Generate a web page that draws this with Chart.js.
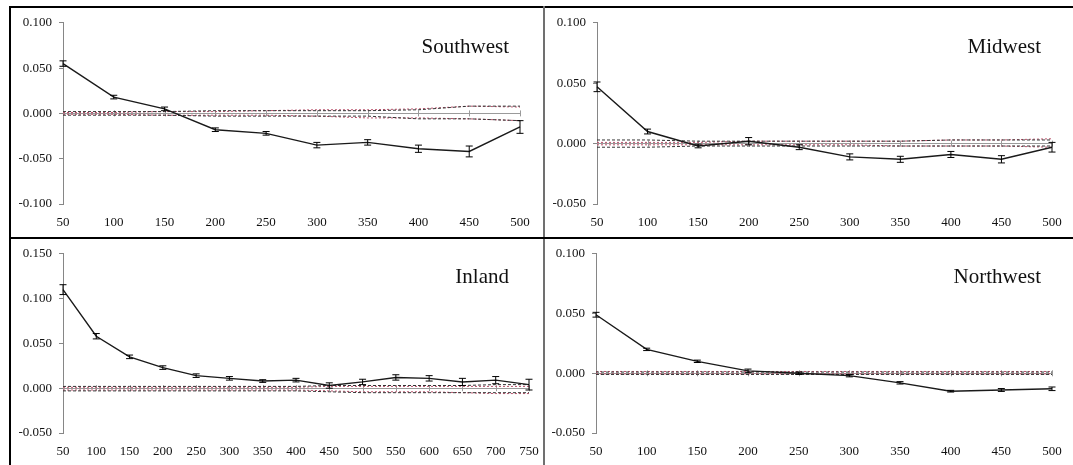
<!DOCTYPE html>
<html><head><meta charset="utf-8">
<script src="https://cdn.jsdelivr.net/npm/chart.js@4.4.1/dist/chart.umd.min.js"></script>
<style>
html,body{margin:0;padding:0;background:#fff;}
body{width:1073px;height:465px;position:relative;overflow:hidden;}
.p{position:absolute;}
.ln{position:absolute;}
</style></head><body>
<div class="ln" style="left:9px;top:6px;width:1064px;height:2px;background:#000"></div>
<div class="ln" style="left:9px;top:6px;width:2px;height:459px;background:#000"></div>
<div class="ln" style="left:543px;top:6px;width:2px;height:459px;background:#707070"></div>
<div class="ln" style="left:9px;top:237px;width:1064px;height:2px;background:#000"></div>
<div class="p" style="left:11px;top:8px;width:532px;height:229px"><canvas id="c1"></canvas></div>
<div class="p" style="left:545px;top:8px;width:528px;height:229px"><canvas id="c2"></canvas></div>
<div class="p" style="left:11px;top:239px;width:532px;height:226px"><canvas id="c3"></canvas></div>
<div class="p" style="left:545px;top:239px;width:528px;height:226px"><canvas id="c4"></canvas></div>
<script>
// ---- data ----
const cats500 = ['50','100','150','200','250','300','350','400','450','500'];
const cats750 = ['50','100','150','200','250','300','350','400','450','500','550','600','650','700','750'];

const swMean  = [0.055, 0.018, 0.005, -0.018, -0.022, -0.035, -0.032, -0.039, -0.042, -0.015];
const swErr   = [0.003, 0.002, 0.002, 0.002, 0.002, 0.003, 0.003, 0.004, 0.006, 0.007];
const swUp    = [0.002, 0.002, 0.002, 0.003, 0.003, 0.003, 0.003, 0.004, 0.008, 0.008];
const swLo    = [-0.002, -0.002, -0.002, -0.003, -0.003, -0.003, -0.003, -0.006, -0.006, -0.008];
const swRedUp = [0.001, 0.001, 0.002, 0.002, 0.003, 0.004, 0.004, 0.005, 0.008, 0.007];
const swRedLo = [-0.001, -0.001, -0.002, -0.002, -0.002, -0.003, -0.005, -0.005, -0.006, -0.008];

const mwMean  = [0.047, 0.010, -0.002, 0.002, -0.003, -0.011, -0.013, -0.009, -0.013, -0.003];
const mwErr   = [0.004, 0.002, 0.0015, 0.003, 0.002, 0.0025, 0.0025, 0.0025, 0.003, 0.004];
const mwUp    = [0.003, 0.003, 0.002, 0.002, 0.002, 0.002, 0.002, 0.003, 0.003, 0.003];
const mwLo    = [-0.003, -0.003, -0.002, -0.002, -0.002, -0.002, -0.002, -0.002, -0.002, -0.002];
const mwRedUp = [0.001, 0.001, 0.001, 0.002, 0.002, 0.002, 0.002, 0.003, 0.003, 0.004];
const mwRedLo = [-0.001, -0.001, -0.001, -0.001, -0.001, -0.001, -0.002, -0.002, -0.002, -0.003];

const inMean  = [0.110, 0.058, 0.035, 0.023, 0.014, 0.011, 0.008, 0.009, 0.003, 0.007, 0.012, 0.011, 0.007, 0.009, 0.004];
const inErr   = [0.0055, 0.003, 0.002, 0.002, 0.002, 0.002, 0.0015, 0.002, 0.003, 0.003, 0.003, 0.003, 0.004, 0.004, 0.006];
const inUp    = [0.002, 0.002, 0.002, 0.002, 0.002, 0.002, 0.002, 0.002, 0.003, 0.003, 0.003, 0.003, 0.003, 0.004, 0.004];
const inLo    = [-0.003, -0.003, -0.003, -0.003, -0.003, -0.003, -0.003, -0.003, -0.004, -0.005, -0.005, -0.005, -0.005, -0.005, -0.005];
const inRedUp = [0.001, 0.001, 0.001, 0.001, 0.001, 0.001, 0.001, 0.001, 0.002, 0.002, 0.002, 0.002, 0.002, 0.002, 0.002];
const inRedLo = [-0.002, -0.002, -0.002, -0.002, -0.002, -0.002, -0.002, -0.002, -0.003, -0.004, -0.004, -0.004, -0.005, -0.006, -0.006];

const nwMean  = [0.049, 0.020, 0.010, 0.002, 0.000, -0.002, -0.008, -0.015, -0.014, -0.013];
const nwErr   = [0.002, 0.001, 0.001, 0.0015, 0.001, 0.001, 0.001, 0.0007, 0.0012, 0.0015];
const nwUp    = [0.001, 0.001, 0.001, 0.001, 0.001, 0.001, 0.001, 0.001, 0.001, 0.001];
const nwLo    = [-0.001, -0.001, -0.001, -0.001, -0.001, -0.001, -0.001, -0.001, -0.001, -0.001];
const nwRedUp = [0.0015, 0.0015, 0.0015, 0.0015, 0.0015, 0.0015, 0.0015, 0.0015, 0.0015, 0.0015];
const nwRedLo = [-0.0005, -0.0005, -0.0005, -0.0005, -0.0005, -0.0005, -0.0005, -0.0005, -0.0005, -0.0005];

// ---- plugins ----
const errorBars = {
  id: 'errorBars',
  afterDatasetsDraw(chart) {
    const ctx = chart.ctx, xs = chart.scales.x, ys = chart.scales.y;
    chart.data.datasets.forEach(ds => {
      if (!ds.err) return;
      ctx.save();
      ctx.strokeStyle = '#000';
      ctx.lineWidth = 1;
      ds.data.forEach((v, i) => {
        const x = xs.getPixelForValue(i);
        const y1 = ys.getPixelForValue(v + ds.err[i]);
        const y2 = ys.getPixelForValue(v - ds.err[i]);
        ctx.beginPath();
        ctx.moveTo(x, y1); ctx.lineTo(x, y2);
        ctx.moveTo(x - 3.5, y1); ctx.lineTo(x + 3.5, y1);
        ctx.moveTo(x - 3.5, y2); ctx.lineTo(x + 3.5, y2);
        ctx.stroke();
      });
      ctx.restore();
    });
  }
};
const zeroTicks = {
  id: 'zeroTicks',
  beforeDatasetsDraw(chart) {
    const ctx = chart.ctx, xs = chart.scales.x, ys = chart.scales.y;
    const y0 = ys.getPixelForValue(0);
    ctx.save();
    ctx.strokeStyle = '#9a9a9a';
    ctx.lineWidth = 1;
    ctx.beginPath();
    for (let i = 0; i < chart.data.labels.length; i++) {
      const x = Math.round(xs.getPixelForValue(i)) + 0.5;
      ctx.moveTo(x, y0 - 3); ctx.lineTo(x, y0 + 3);
    }
    ctx.stroke();
    ctx.restore();
  }
};
const panelTitle = {
  id: 'panelTitle',
  afterDraw(chart, args, opts) {
    const ctx = chart.ctx, a = chart.chartArea;
    ctx.save();
    ctx.font = '21px "Liberation Serif", "Times New Roman", serif';
    ctx.fillStyle = '#111';
    ctx.textAlign = 'right';
    ctx.textBaseline = 'alphabetic';
    ctx.fillText(opts.text, a.right - opts.dx, a.top + opts.dy);
    ctx.restore();
  }
};

function makePanel(id, labels, mean, err, up, lo, redUp, redLo, y, lay) {
  const font = { family: '"Liberation Serif", "Times New Roman", serif', size: 13 };
  new Chart(document.getElementById(id), {
    type: 'line',
    data: {
      labels: labels,
      datasets: [
        { data: mean, err: err, borderColor: '#1a1a1a', borderWidth: 1.4, pointRadius: 0, tension: 0 },
        { data: up, borderColor: '#333', borderWidth: 1, borderDash: [3, 2], pointRadius: 0 },
        { data: lo, borderColor: '#333', borderWidth: 1, borderDash: [3, 2], pointRadius: 0 },
        { data: redUp, borderColor: '#b9506a', borderWidth: 1, borderDash: [2, 2], pointRadius: 0 },
        { data: redLo, borderColor: '#b9506a', borderWidth: 1, borderDash: [2, 2], pointRadius: 0 }
      ]
    },
    options: {
      responsive: true, maintainAspectRatio: false, animation: false,
      layout: { padding: { left: 0, right: lay.right, top: lay.top, bottom: 0 } },
      plugins: {
        legend: { display: false }, tooltip: { enabled: false },
        panelTitle: { text: y.title, dx: lay.tdx, dy: lay.tdy }
      },
      scales: {
        x: {
          offset: false,
          grid: { display: false },
          border: { display: false },
          ticks: { font: font, color: '#111', padding: 3, autoSkip: false, maxRotation: 0 },
          afterFit(s) { s.height = lay.xh; }
        },
        y: {
          min: y.min, max: y.max,
          grid: {
            color: c => (c.tick && Math.abs(c.tick.value) < 1e-9) ? '#9a9a9a' : 'rgba(0,0,0,0)',
            tickColor: '#868686', tickLength: 4, drawTicks: true
          },
          border: { display: true, color: '#868686', width: 1 },
          ticks: {
            stepSize: 0.05, font: font, color: '#111', padding: 7,
            callback: v => (Math.abs(v) < 1e-9 ? 0 : v).toFixed(3)
          },
          afterFit(s) { s.width = lay.yw; }
        }
      }
    },
    plugins: [zeroTicks, errorBars, panelTitle]
  });
}

makePanel('c1', cats500, swMean, swErr, swUp, swLo, swRedUp, swRedLo,
  { min: -0.1, max: 0.1, title: 'Southwest' },
  { right: 23, top: 12, xh: 33, yw: 52, tdx: 11, tdy: 30 });
makePanel('c2', cats500, mwMean, mwErr, mwUp, mwLo, mwRedUp, mwRedLo,
  { min: -0.05, max: 0.1, title: 'Midwest' },
  { right: 21, top: 12, xh: 33, yw: 52, tdx: 11, tdy: 30 });
makePanel('c3', cats750, inMean, inErr, inUp, inLo, inRedUp, inRedLo,
  { min: -0.05, max: 0.15, title: 'Inland' },
  { right: 14, top: 12, xh: 32, yw: 52, tdx: 20, tdy: 29 });
makePanel('c4', cats500, nwMean, nwErr, nwUp, nwLo, nwRedUp, nwRedLo,
  { min: -0.05, max: 0.1, title: 'Northwest' },
  { right: 21, top: 12, xh: 32, yw: 51, tdx: 11, tdy: 29 });
</script>
</body></html>
